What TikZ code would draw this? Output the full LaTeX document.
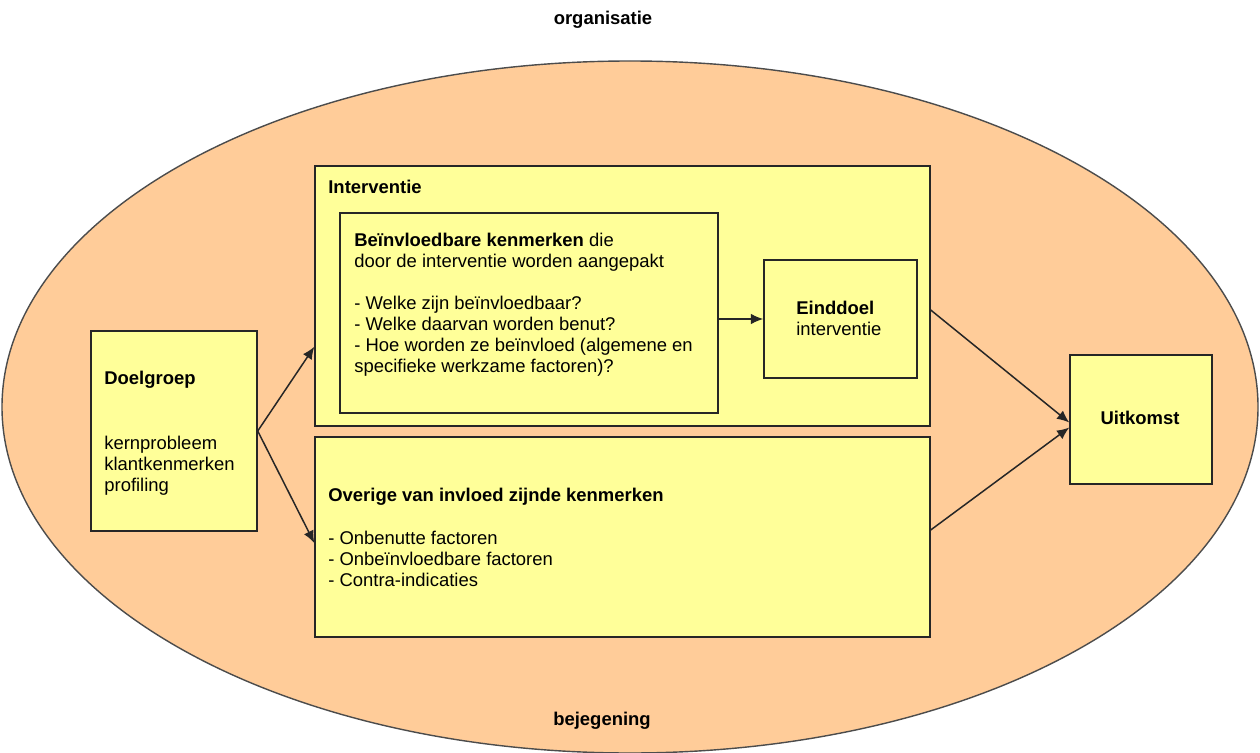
\documentclass[tikz,border=0pt]{standalone}
\usepackage{fontspec}
\setmainfont{Liberation Sans}
\usetikzlibrary{positioning,arrows.meta}
\definecolor{oranje}{RGB}{255,204,153}
\definecolor{geel}{RGB}{255,255,153}
\tikzset{
  vak/.style={draw=black!85, fill=geel, line width=0.85pt, inner sep=0pt},
  tekst/.style={anchor=north west, align=left, inner sep=0pt, font=\fontsize{10.5}{11.9}\selectfont},
  kop/.style={tekst, font=\fontsize{10.5}{11.9}\selectfont\bfseries},
  pijl/.style={-{Latex[length=7pt,width=6pt]}, line width=0.85pt, draw=black!85}
}

\begin{document}
\begin{tikzpicture}[x=0.02cm,y=-0.02cm]
  \useasboundingbox (0,0) rectangle (1260,753);
  % achtergrond
  \draw[fill=oranje, draw=black!70, line width=0.8pt] (630,407) ellipse [x radius=628, y radius=346];
  \node[kop, anchor=center] (organisatie) at (603,20) {organisatie};
  \node[kop, anchor=center] (bejegening) at (602,721) {bejegening};

  % vakken
  \node[vak, minimum width=3.32cm, minimum height=4cm] (doelgroep) at (174,431) {};
  \node[vak, minimum width=12.3cm, minimum height=5.2cm] (interventie) at (622.5,296) {};
  \node[vak, minimum width=7.56cm, minimum height=4cm] (beinvl) at (529,313) {};
  \node[vak, minimum width=3.06cm, minimum height=2.36cm] (einddoel) at (840.5,319) {};
  \node[vak, minimum width=12.3cm, minimum height=4cm] (overige) at (622.5,537) {};
  \node[vak, minimum width=2.84cm, minimum height=2.58cm] (uitkomst) at (1141,419.5) {};

  % teksten
  \node[kop] (doeltitel) at (104,371) {Doelgroep};
  \node[tekst] (doeltekst) at (104,436) {kernprobleem\\klantkenmerken\\profiling};
  \node[kop] (intertitel) at (328,180) {Interventie};
  \node[tekst] (beinvltekst) at (354,233) {\textbf{Beïnvloedbare kenmerken} die\\door de interventie worden aangepakt\\[11.9pt]
    - Welke zijn beïnvloedbaar?\\- Welke daarvan worden benut?\\- Hoe worden ze beïnvloed (algemene en\\specifieke werkzame factoren)?};
  \node[tekst] (eindtekst) at (796,301) {\textbf{Einddoel}\\interventie};
  \node[kop] (overtitel) at (328,488) {Overige van invloed zijnde kenmerken};
  \node[tekst] (overtekst) at (328,531) {- Onbenutte factoren\\- Onbeïnvloedbare factoren\\- Contra-indicaties};
  \node[kop, anchor=center] (uittekst) at (1140,418) {Uitkomst};

  % pijlen
  \draw[pijl] (doelgroep.east) -- ([yshift=1.6cm]interventie.south west);
  \draw[pijl] (doelgroep.east) -- ([yshift=-0.12cm]overige.west);
  \draw[pijl] (beinvl.east |- einddoel.west) -- (einddoel.west);
  \draw[pijl] ([yshift=-0.28cm]interventie.east) -- ([yshift=-0.06cm]uitkomst.west);
  \draw[pijl] ([yshift=0.14cm]overige.east) -- ([yshift=-0.16cm]uitkomst.west);
\end{tikzpicture}
\end{document}
